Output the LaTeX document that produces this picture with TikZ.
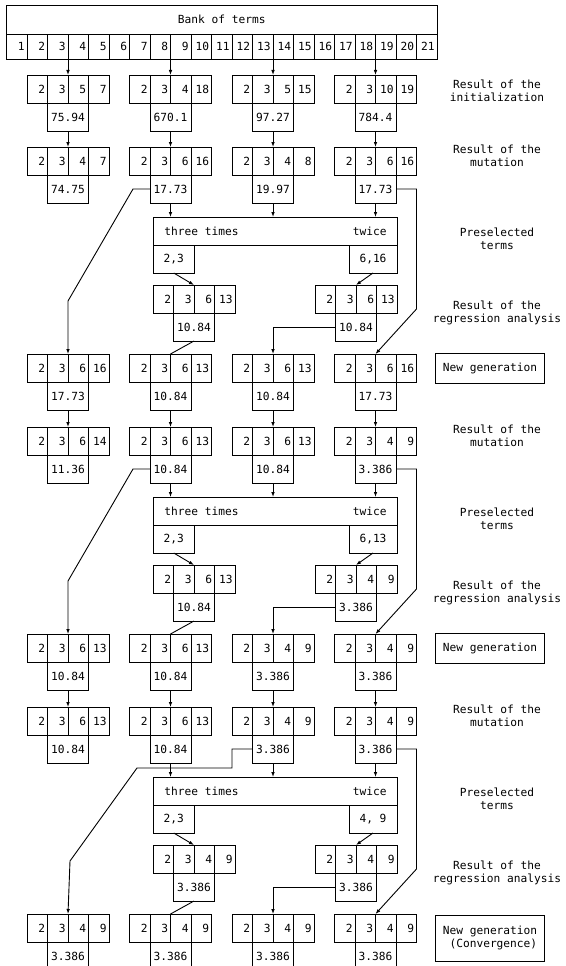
\documentclass[tikz,border=0pt]{standalone}
\usepackage{fontspec}
\newfontfamily\monof{DejaVu Sans Mono}
\usetikzlibrary{arrows.meta}
\tikzset{
  cell/.style={draw, minimum height=28pt, inner xsep=2.5pt, inner ysep=0pt, text width=15.5pt, align=right, outer sep=0pt, anchor=north west},
  valbox/.style={draw, minimum width=41pt, minimum height=28pt, inner sep=0pt, outer sep=0pt, anchor=north west},
  bcell/.style={cell, minimum height=25pt},
  arr/.style={-{Latex[length=5pt,width=3.6pt]}},
  lab/.style={align=center, inner sep=0pt},
  ngbox/.style={draw, align=left, inner xsep=7pt, inner ysep=4pt, minimum height=30pt},
  prebox/.style={draw, minimum width=244pt, minimum height=28pt, inner sep=0pt, outer sep=0pt, anchor=north west},
  subbox/.style={draw, minimum height=28pt, inner sep=0pt, outer sep=0pt, anchor=north west},
}
\def\chrom#1#2#3#4#5#6#7#8{%
  \node[cell] (#1-1) at (#2,#3) {#4};
  \node[cell] (#1-2) at (#1-1.north east) {#5};
  \node[cell] (#1-3) at (#1-2.north east) {#6};
  \node[cell] (#1-4) at (#1-3.north east) {#7};
  \node[valbox] (#1-v) at (#1-2.south west) {#8};
}
\def\preset#1#2#3#4{% name, top, left text, right text
  \node[prebox] (#1) at (153,#2) {};
  \node[anchor=west, inner sep=0pt] (#1-a) at ([xshift=11pt]#1.west) {three times};
  \node[anchor=east, inner sep=0pt] (#1-b) at ([xshift=-10pt]#1.east) {twice};
  \node[subbox, minimum width=41.5pt] (#1l) at (#1.south west) {#3};
  \node[subbox, minimum width=48pt, anchor=north east] (#1r) at (#1.south east) {#4};
}
\begin{document}
\begin{tikzpicture}[x=1pt, y=-1pt, line width=0.9pt,
  font=\monof\fontsize{11.2pt}{13.5pt}\selectfont]
\useasboundingbox (0,0) rectangle (565,966);
\clip (0,0) rectangle (565,966);
\fill[white] (0,0) rectangle (565,966);

% Bank of terms
\node[draw, minimum width=430.5pt, minimum height=29pt, inner sep=0pt, outer sep=0pt, anchor=north west] (bank) at (6.5,5) {Bank of terms};
\foreach \k in {1,...,21} {
  \node[bcell] (b\k) at ({6.5+20.5*(\k-1)},34) {\k};
}

% Initialization
\chrom{i1}{27}{75}{2}{3}{5}{7}{75.94}
\chrom{i2}{129.5}{75}{2}{3}{4}{18}{670.1}
\chrom{i3}{232}{75}{2}{3}{5}{15}{97.27}
\chrom{i4}{334.5}{75}{2}{3}{10}{19}{784.4}

% Cycle 1
\chrom{m11}{27}{147}{2}{3}{4}{7}{74.75}
\chrom{m12}{129.5}{147}{2}{3}{6}{16}{17.73}
\chrom{m13}{232}{147}{2}{3}{4}{8}{19.97}
\chrom{m14}{334.5}{147}{2}{3}{6}{16}{17.73}
\preset{p1}{217}{2,3}{6,16}
\chrom{r1l}{153}{285}{2}{3}{6}{13}{10.84}
\chrom{r1r}{315}{285}{2}{3}{6}{13}{10.84}
\chrom{n11}{27}{354}{2}{3}{6}{16}{17.73}
\chrom{n12}{129.5}{354}{2}{3}{6}{13}{10.84}
\chrom{n13}{232}{354}{2}{3}{6}{13}{10.84}
\chrom{n14}{334.5}{354}{2}{3}{6}{16}{17.73}

% Cycle 2
\chrom{m21}{27}{427}{2}{3}{6}{14}{11.36}
\chrom{m22}{129.5}{427}{2}{3}{6}{13}{10.84}
\chrom{m23}{232}{427}{2}{3}{6}{13}{10.84}
\chrom{m24}{334.5}{427}{2}{3}{4}{9}{3.386}
\preset{p2}{497}{2,3}{6,13}
\chrom{r2l}{153}{565}{2}{3}{6}{13}{10.84}
\chrom{r2r}{315}{565}{2}{3}{4}{9}{3.386}
\chrom{n21}{27}{634}{2}{3}{6}{13}{10.84}
\chrom{n22}{129.5}{634}{2}{3}{6}{13}{10.84}
\chrom{n23}{232}{634}{2}{3}{4}{9}{3.386}
\chrom{n24}{334.5}{634}{2}{3}{4}{9}{3.386}

% Cycle 3
\chrom{m31}{27}{707}{2}{3}{6}{13}{10.84}
\chrom{m32}{129.5}{707}{2}{3}{6}{13}{10.84}
\chrom{m33}{232}{707}{2}{3}{4}{9}{3.386}
\chrom{m34}{334.5}{707}{2}{3}{4}{9}{3.386}
\preset{p3}{777}{2,3}{4, 9}
\chrom{r3l}{153}{845}{2}{3}{4}{9}{3.386}
\chrom{r3r}{315}{845}{2}{3}{4}{9}{3.386}
\chrom{n31}{27}{914}{2}{3}{4}{9}{3.386}
\chrom{n32}{129.5}{914}{2}{3}{4}{9}{3.386}
\chrom{n33}{232}{914}{2}{3}{4}{9}{3.386}
\chrom{n34}{334.5}{914}{2}{3}{4}{9}{3.386}

% Labels
\node[lab] (l0) at (497,91) {Result of the\\initialization};
\node[lab] (l1m) at (497,156) {Result of the\\mutation};
\node[lab] (l1p) at (497,239) {Preselected\\terms};
\node[lab] (l1r) at (497,313) {Result of the\\regression analysis};
\node[ngbox] (l1n) at (490,368) {New generation};
\node[lab] (l2m) at (497,436) {Result of the\\mutation};
\node[lab] (l2p) at (497,519) {Preselected\\terms};
\node[lab] (l2r) at (497,593) {Result of the\\regression analysis};
\node[ngbox] (l2n) at (490,648) {New generation};
\node[lab] (l3m) at (497,716) {Result of the\\mutation};
\node[lab] (l3p) at (497,799) {Preselected\\terms};
\node[lab] (l3r) at (497,873) {Result of the\\regression analysis};
\node[ngbox, minimum height=46pt] (l3n) at (490,938) {New generation\\\hphantom{N}(Convergence)};

% Connectors: bank -> init
\draw[arr] (b3.south east) -- (i1-2.north east);
\draw[arr] (b8.south east) -- (i2-2.north east);
\draw[arr] (b13.south east) -- (i3-2.north east);
\draw[arr] (b18.south east) -- (i4-2.north east);
% init -> mutation 1
\foreach \i in {1,2,3,4} {
  \draw[arr] (i\i-v.south) -- (m1\i-2.north east);
  \draw[arr] (n1\i-v.south) -- (m2\i-2.north east);
  \draw[arr] (n2\i-v.south) -- (m3\i-2.north east);
}
% mutation -> preselection
\foreach \c in {1,2,3} {
  \foreach \i in {2,3,4} {
    \draw[arr] (m\c\i-v.south) -- (m\c\i-v.south |- p\c.north);
  }
  \draw[arr] (p\c l.south) -- (r\c l-2.north east);
  \draw[arr] (p\c r.south) -- (r\c r-2.north east);
  \draw (r\c l-v.south) -- (n\c2-2.north east);
  \draw[arr] (r\c r-v.west) -| (n\c3-2.north east);
}
% column 1 paths
\coordinate (k11) at (133,189);
\coordinate (k12) at (68,301);
\draw[arr] (m12-v.west) -- (k11) -- (k12) -- (n11-2.north east);
\coordinate (k21) at (133,469);
\coordinate (k22) at (68,581);
\draw[arr] (m22-v.west) -- (k21) -- (k22) -- (n21-2.north east);
\coordinate (k31) at (232,768);
\coordinate (k32) at (137,768);
\coordinate (k33) at (70,861);
\draw[arr] (m33-v.west) -| (k31) -- (k32) -- (k33) -- (n31-2.north east);
% column 4 paths
\coordinate (q1) at (416.5,309);
\draw[arr] (m14-v.east) -| (q1) -- (n14-2.north east);
\coordinate (q2) at (416.5,589);
\draw[arr] (m24-v.east) -| (q2) -- (n24-2.north east);
\coordinate (q3) at (416.5,869);
\draw[arr] (m34-v.east) -| (q3) -- (n34-2.north east);
\end{tikzpicture}
\end{document}
